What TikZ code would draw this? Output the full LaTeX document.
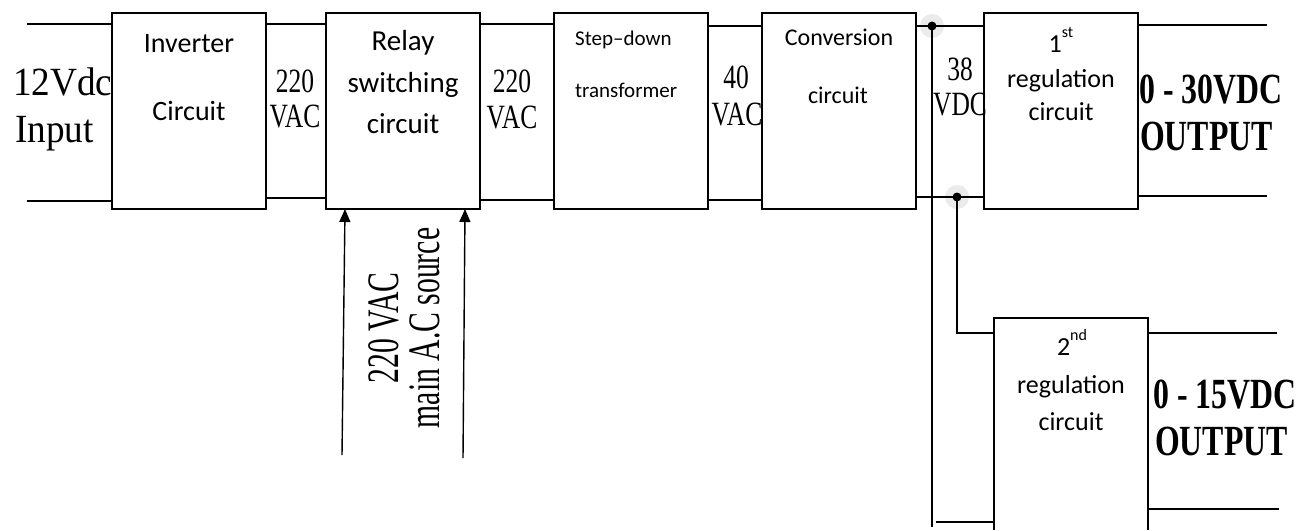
\documentclass[tikz,border=0pt]{standalone}
\usepackage{fontspec}
\setmainfont{Liberation Serif}
\newfontfamily\calib{Carlito}
\usetikzlibrary{arrows.meta}
\newcommand{\condtxt}[1]{\scalebox{0.75}[1]{#1}}
\newcommand{\outtxt}[1]{\scalebox{0.74}[1]{#1}}
\newcommand{\rottxt}[1]{\scalebox{0.66}[1]{#1}}
\begin{document}
\begin{tikzpicture}[x=1pt,y=-1pt,
  blk/.style={draw, line width=1.8pt, minimum width=154pt, minimum height=196pt, anchor=north west, inner sep=0pt, outer sep=0pt},
  openblk/.style={minimum width=154pt, minimum height=212pt, anchor=north west, inner sep=0pt, outer sep=0pt},
  boxline/.style={line width=1.8pt},
  wire/.style={line width=1.4pt},
  arr/.style={line width=1.4pt, -{Triangle[length=13pt,width=11pt]}},
  halo/.style={fill=black!8},
  dotfill/.style={fill=black},
  lblA/.style={inner sep=0pt, anchor=base, font=\calib\fontsize{28}{30}\selectfont},
  lblB/.style={inner sep=0pt, anchor=base, font=\calib\fontsize{29}{31}\selectfont},
  lblC/.style={inner sep=0pt, anchor=base west, font=\calib\fontsize{21}{23}\selectfont},
  lblD/.style={inner sep=0pt, anchor=base, font=\calib\fontsize{24}{26}\selectfont},
  lblE/.style={inner sep=0pt, anchor=base, font=\calib\fontsize{26}{28}\selectfont},
  volt/.style={inner sep=0pt, anchor=base, font=\fontsize{34}{36}\selectfont},
  inp/.style={inner sep=0pt, anchor=base west, font=\fontsize{40}{42}\selectfont},
  outl/.style={inner sep=0pt, anchor=base west, font=\bfseries\fontsize{43}{45}\selectfont},
]
\useasboundingbox (0,0) rectangle (1313,530);

% halos behind junction dots
\coordinate (j1) at (932,26);
\coordinate (j2) at (957,197);
\fill[halo] (j1) circle (12pt);
\fill[halo] (j2) circle (12pt);

% blocks
\node[blk] (inv) at (112,13) {};
\node[blk] (relay) at (326,13) {};
\node[blk] (step) at (554,13) {};
\node[blk] (conv) at (762,13) {};
\node[blk] (reg1) at (984,13) {};
\node[openblk] (reg2) at (994,318) {};
\draw[boxline] (reg2.south west) -- (reg2.north west) -- (reg2.north east) -- (reg2.south east);

% input wires
\coordinate (in1) at (27,24);
\coordinate (in2) at (27,201);
\draw[wire] (in1) -- (inv.west |- in1);
\draw[wire] (in2) -- (inv.west |- in2);

% chain wires
\draw[wire] ([yshift=-11pt]inv.north east) -- ([yshift=-11pt]relay.north west);
\draw[wire] ([yshift=11pt]inv.south east) -- ([yshift=11pt]relay.south west);
\draw[wire] ([yshift=-11pt]relay.north east) -- ([yshift=-11pt]step.north west);
\draw[wire] ([yshift=9pt]relay.south east) -- ([yshift=9pt]step.south west);
\draw[wire] ([yshift=-13pt]step.north east) -- ([yshift=-13pt]conv.north west);
\draw[wire] ([yshift=9pt]step.south east) -- ([yshift=9pt]conv.south west);
\draw[wire] ([yshift=-13pt]conv.north east) -- ([yshift=-13pt]reg1.north west);
\draw[wire] ([yshift=12pt]conv.south east) -- ([yshift=12pt]reg1.south west);

% outputs of 1st regulation
\coordinate (o1) at (1267,25);
\coordinate (o2) at (1267,196);
\draw[wire] (reg1.east |- o1) -- (o1);
\draw[wire] (reg1.east |- o2) -- (o2);

% branch to 2nd regulation
\coordinate (jb1) at (932,527);
\coordinate (jb2) at (932,522);
\draw[wire] (j1) -- (jb1);
\draw[wire] ([xshift=4pt]jb2) -- (reg2.west |- jb2);
\draw[wire] (j2) |- ([yshift=-15pt]reg2.north west);

% outputs of 2nd regulation
\coordinate (o3) at (1277,333);
\coordinate (o4) at (1279,509);
\draw[wire] (reg2.east |- o3) -- (o3);
\draw[wire] (reg2.east |- o4) -- (o4);

% junction dots
\fill[dotfill] (j1) circle (4.5pt);
\fill[dotfill] (j2) circle (4.5pt);

% mains arrows
\coordinate (a1) at (342,455);
\coordinate (a2) at (463,458);
\draw[arr] (a1) -- ([xshift=19pt]relay.south west);
\draw[arr] (a2) -- ([xshift=-15pt]relay.south east);
\node[rotate=90, align=center, inner sep=0pt, font=\fontsize{45}{41}\selectfont] (acsrc) at (404,328)
  {\rottxt{220 VAC}\\\rottxt{main A.C source}};

% block texts
\node[lblA] (t1a) at (189,52) {Inverter};
\node[lblA] (t1b) at (189,120) {Circuit};
\node[lblB] (t2a) at (403,50) {Relay};
\node[lblB] (t2b) at (403,92) {switching};
\node[lblB] (t2c) at (403,133) {circuit};
\node[lblC] (t3a) at (575,45) {Step–down};
\node[lblC] (t3b) at (575,97) {transformer};
\node[lblD] (t4a) at (839,45) {Conversion};
\node[lblD] (t4b) at (838,103) {circuit};
\node[lblE] (t5a) at (1061,52) {1\raisebox{0.55em}{\fontsize{16}{16}\selectfont st}};
\node[lblE] (t5b) at (1061,87) {regulation};
\node[lblE] (t5c) at (1061,120) {circuit};
\node[lblE] (t6a) at (1072,355) {2\raisebox{0.55em}{\fontsize{16}{16}\selectfont nd}};
\node[lblE] (t6b) at (1071,393) {regulation};
\node[lblE] (t6c) at (1071,430) {circuit};

% voltage labels
\node[inp] (v0a) at (13,95) {\scalebox{0.93}[1]{12Vdc}};
\node[inp] (v0b) at (15,142) {\scalebox{0.93}[1]{Input}};
\node[volt] (v1a) at (295,92) {\condtxt{220}};
\node[volt] (v1b) at (295,127) {\condtxt{VAC}};
\node[volt] (v2a) at (512,92) {\condtxt{220}};
\node[volt] (v2b) at (512,128) {\condtxt{VAC}};
\node[volt] (v3a) at (736,88) {\condtxt{40}};
\node[volt] (v3b) at (737,125) {\condtxt{VAC}};
\node[volt] (v4a) at (960,80) {\condtxt{38}};
\node[volt] (v4b) at (960,115) {\condtxt{VDC}};

% output labels
\node[outl] (out1a) at (1139,103) {\outtxt{0 - 30VDC}};
\node[outl] (out1b) at (1140,150) {\outtxt{OUTPUT}};
\node[outl] (out2a) at (1153,408) {\outtxt{0 - 15VDC}};
\node[outl] (out2b) at (1155,455) {\outtxt{OUTPUT}};
\end{tikzpicture}
\end{document}
